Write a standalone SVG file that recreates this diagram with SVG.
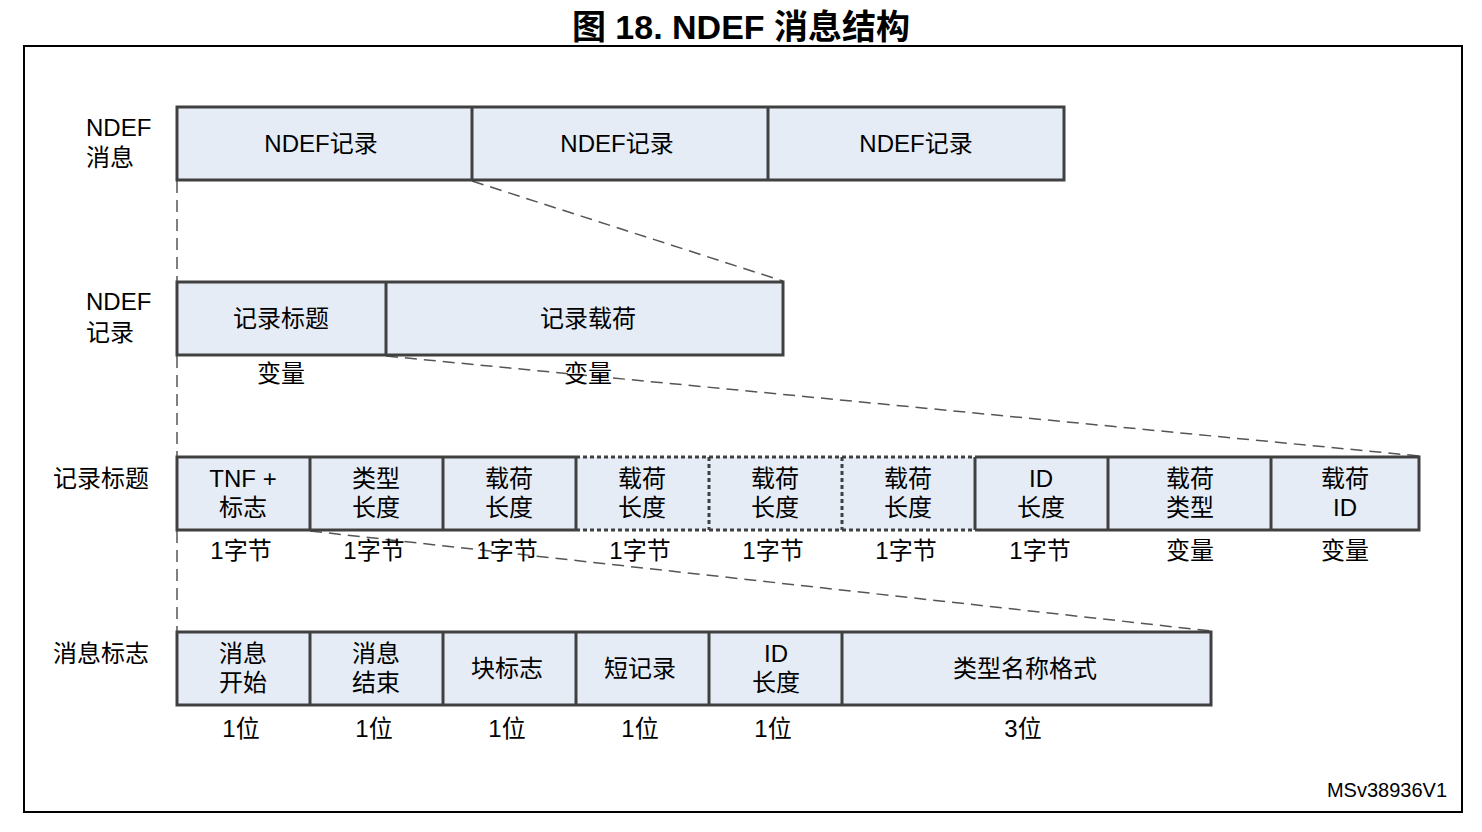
<svg xmlns="http://www.w3.org/2000/svg" width="1482" height="832" viewBox="0 0 1482 832">
<style>
text{font-family:"Liberation Sans","Noto Sans CJK SC",sans-serif;fill:#000;}
.t{font-size:24px;text-anchor:middle;}
.l{font-size:24px;}
.box{fill:#E6ECF6;stroke:#404040;stroke-width:3;}
.solid{fill:none;stroke:#404040;stroke-width:3;}
.dot{fill:none;stroke:#404040;stroke-width:3;stroke-dasharray:4 3;}
.dash{fill:none;stroke:#555;stroke-width:1.5;stroke-dasharray:12 7;}
</style>
<rect width="1482" height="832" fill="#fff"/>
<text x="741" y="39" style="font-size:34px;font-weight:bold;text-anchor:middle">图 18. NDEF 消息结构</text>
<rect x="24" y="46" width="1438" height="766" fill="none" stroke="#000" stroke-width="2"/>

<g id="connectors">
<line class="dash" x1="177" y1="181" x2="177" y2="281"/>
<line class="dash" x1="472" y1="181" x2="783" y2="281"/>
<line class="dash" x1="177" y1="356" x2="177" y2="456"/>
<line class="dash" x1="386" y1="356" x2="1419" y2="456"/>
<line class="dash" x1="177" y1="531" x2="177" y2="631"/>
<line class="dash" x1="310" y1="531" x2="1211" y2="631"/>
</g>

<g id="row-labels">
<text class="l" x="86" y="136">NDEF</text>
<text class="l" x="86" y="166">消息</text>
<text class="l" x="86" y="310">NDEF</text>
<text class="l" x="86" y="341">记录</text>
<text class="l" x="53" y="487">记录标题</text>
<text class="l" x="53" y="662">消息标志</text>
</g>

<g id="ndef-message">
<rect class="box" x="177" y="107" width="887" height="73"/>
<line class="solid" x1="472" y1="107" x2="472" y2="180"/>
<line class="solid" x1="768" y1="107" x2="768" y2="180"/>
<text class="t" x="321" y="152">NDEF记录</text>
<text class="t" x="617" y="152">NDEF记录</text>
<text class="t" x="916" y="152">NDEF记录</text>
</g>

<g id="ndef-record">
<rect class="box" x="177" y="282" width="606" height="73"/>
<line class="solid" x1="386" y1="282" x2="386" y2="355"/>
<text class="t" x="281" y="327">记录标题</text>
<text class="t" x="588" y="327">记录载荷</text>
<text class="t" x="281" y="382">变量</text>
<text class="t" x="588" y="382">变量</text>
</g>

<g id="record-header">
<rect x="177" y="457" width="1242" height="73" fill="#E6ECF6"/>
<path class="solid" d="M576 457 H177 V530 H576 M975 457 H1419 V530 H975"/>
<path class="solid" d="M310 457 V530 M443 457 V530 M576 457 V530 M975 457 V530 M1108 457 V530 M1271 457 V530"/>
<path class="dot" d="M576 457 H975 M576 530 H975 M709 457 V530 M842 457 V530"/>
<text class="t" x="243" y="487">TNF +</text><text class="t" x="243" y="516">标志</text>
<text class="t" x="376" y="487">类型</text><text class="t" x="376" y="516">长度</text>
<text class="t" x="509" y="487">载荷</text><text class="t" x="509" y="516">长度</text>
<text class="t" x="642" y="487">载荷</text><text class="t" x="642" y="516">长度</text>
<text class="t" x="775" y="487">载荷</text><text class="t" x="775" y="516">长度</text>
<text class="t" x="908" y="487">载荷</text><text class="t" x="908" y="516">长度</text>
<text class="t" x="1041" y="487">ID</text><text class="t" x="1041" y="516">长度</text>
<text class="t" x="1190" y="487">载荷</text><text class="t" x="1190" y="516">类型</text>
<text class="t" x="1345" y="487">载荷</text><text class="t" x="1345" y="516">ID</text>
<text class="t" x="241" y="559">1字节</text>
<text class="t" x="374" y="559">1字节</text>
<text class="t" x="507" y="559">1字节</text>
<text class="t" x="640" y="559">1字节</text>
<text class="t" x="773" y="559">1字节</text>
<text class="t" x="906" y="559">1字节</text>
<text class="t" x="1040" y="559">1字节</text>
<text class="t" x="1190" y="559">变量</text>
<text class="t" x="1345" y="559">变量</text>
</g>

<g id="message-flags">
<rect class="box" x="177" y="632" width="1034" height="73"/>
<path class="solid" d="M310 632 V705 M443 632 V705 M576 632 V705 M709 632 V705 M842 632 V705"/>
<text class="t" x="243" y="662">消息</text><text class="t" x="243" y="691">开始</text>
<text class="t" x="376" y="662">消息</text><text class="t" x="376" y="691">结束</text>
<text class="t" x="507" y="677">块标志</text>
<text class="t" x="640" y="677">短记录</text>
<text class="t" x="776" y="662">ID</text><text class="t" x="776" y="691">长度</text>
<text class="t" x="1025" y="677">类型名称格式</text>
<text class="t" x="241" y="737">1位</text>
<text class="t" x="374" y="737">1位</text>
<text class="t" x="507" y="737">1位</text>
<text class="t" x="640" y="737">1位</text>
<text class="t" x="773" y="737">1位</text>
<text class="t" x="1023" y="737">3位</text>
</g>

<text x="1447" y="797" style="font-size:20px;text-anchor:end">MSv38936V1</text>
</svg>
